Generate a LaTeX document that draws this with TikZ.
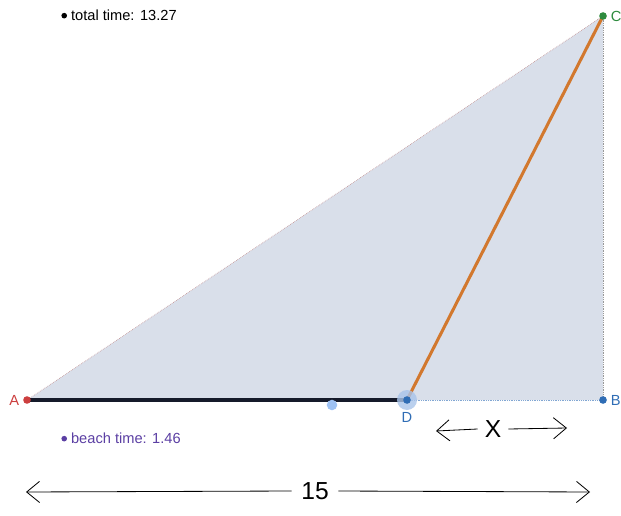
\documentclass[tikz,border=0pt]{standalone}
\usepackage{fontspec}
\setmainfont{Liberation Sans}
\usetikzlibrary{arrows.meta, positioning}

\definecolor{fillbg}{HTML}{D9DFEA}
\definecolor{ptred}{HTML}{CC3F3F}
\definecolor{ptgreen}{HTML}{2E8B3E}
\definecolor{ptblue}{HTML}{2F6DB5}
\definecolor{halo}{HTML}{A9C4EA}
\definecolor{slider}{HTML}{9EC2F4}
\definecolor{runline}{HTML}{D2782E}
\definecolor{beachline}{HTML}{151A2A}
\definecolor{purplelbl}{HTML}{5B3FA3}

\newcommand{\bigdot}{\raisebox{0.12em}{\tikz\fill (0,0) circle (2.4pt);}}

\begin{document}
\begin{tikzpicture}[
x=0.03cm, y=-0.03cm,
edge/.style={densely dotted, line width=0.5pt},
pt/.style={circle, fill, inner sep=0pt, minimum size=6.5pt},
lbl/.style={font=\fontsize{12.5}{15}\selectfont, inner sep=1pt},
hand/.style={font=\fontsize{21}{24}\selectfont, inner sep=2pt},
handarrow/.style={-{Straight Barb[length=11pt, width=18pt]}, line width=0.7pt}
]
\useasboundingbox (0,0) rectangle (621,516);

\coordinate (A) at (27,400);
\coordinate (B) at (603,400);
\coordinate (C) at (603,16);
\coordinate (D) at (407,400);

% triangle
\fill[fillbg] (A) -- (B) -- (C) -- cycle;
\draw[edge, color=red!30!gray!70] (A) -- (C);
\draw[edge, color=gray!80] (C) -- (B);
\draw[edge, color=ptblue!60] (D) -- (B);

% paths
\draw[beachline, line width=2.6pt] (A) -- (D);
\draw[runline, line width=2.6pt] (D) -- (C);

% points
\fill[halo, opacity=0.8] (D) circle (10);
\node[pt, slider, minimum size=9pt] (s) at (332,405) {};
\node[pt, ptred] (pA) at (A) {};
\node[pt, ptblue] (pB) at (B) {};
\node[pt, ptgreen] (pC) at (C) {};
\node[pt, ptblue] (pD) at (D) {};

\node[lbl, ptred, left=2pt of pA] {A};
\node[lbl, ptblue, right=2pt of pB] {B};
\node[lbl, ptgreen, right=2pt of pC] {C};
\node[lbl, ptblue, below=6pt of pD] {D};

% readouts
\node[lbl, anchor=west] (total) at (60,15) {\bigdot\ total time: 13.27};
\node[lbl, anchor=west, purplelbl] (beach) at (60,438) {\bigdot\ beach time: 1.46};

% hand labels
\node[hand] (x) at (493,429) {X};
\coordinate (xl) at (436,431);
\coordinate (xr) at (567,428);
\draw[handarrow] ([xshift=-4pt]x.west) -- (xl);
\draw[handarrow] ([xshift=4pt]x.east) -- (xr);

\node[hand] (len) at (315,491) {15};
\coordinate (ll) at (26,492);
\coordinate (lr) at (590,492);
\draw[handarrow] ([xshift=-6pt]len.west) -- (ll);
\draw[handarrow] ([xshift=6pt]len.east) -- (lr);

\end{tikzpicture}
\end{document}
